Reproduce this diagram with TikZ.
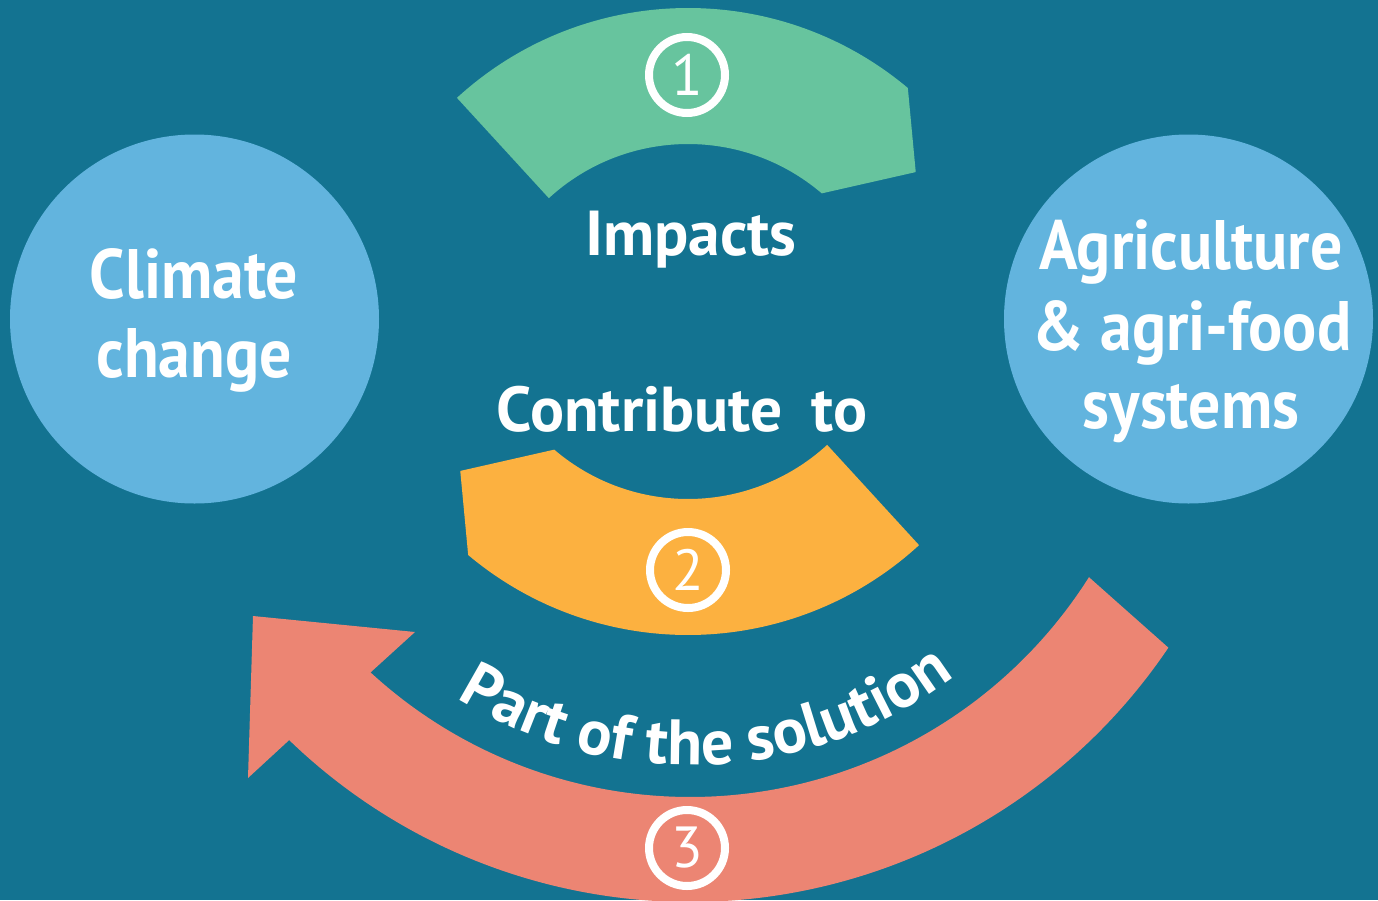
\documentclass[tikz,border=0pt]{standalone}
\usepackage{fontspec}
\setmainfont{PT Sans}
\newfontfamily\condfont{PT Sans}[FakeStretch=0.91]
\usetikzlibrary{calc,decorations.text}
\definecolor{bg}{HTML}{137391}
\definecolor{cblue}{HTML}{62B4DE}
\definecolor{cgreen}{HTML}{67C49E}
\definecolor{corange}{HTML}{FCB140}
\definecolor{cred}{HTML}{EC8573}
\begin{document}
\begin{tikzpicture}[x=1pt,y=1pt,
  bigcircle/.style={circle, fill=cblue, minimum size=369pt, inner sep=0pt},
  circtext/.style={text=white, font=\condfont\fontsize{70}{80}\selectfont\bfseries, inner sep=0pt, anchor=base},
  numring/.style={circle, draw=white, line width=8pt, minimum size=76pt, inner sep=0pt, text=white, font=\fontsize{58}{58}\selectfont},
  midtext/.style={text=white, font=\fontsize{63.5}{72}\selectfont\bfseries, inner sep=0pt, anchor=base}
]
\fill[bg] (0,0) rectangle (1378,-900);
\useasboundingbox (0,0) rectangle (1378,-900);
\clip (0,0) rectangle (1378,-900);

\coordinate (G) at (688,-350);
\coordinate (O) at (688,-293);
\coordinate (R) at (690,-325);

% green band (1)
\fill[cgreen] ($(G)+(132.5:342)$) arc[start angle=132.5, end angle=50, radius=342]
  -- ($(G)+(38:289)$) -- ($(G)+(49.5:206)$)
  arc[start angle=49.5, end angle=132.5, radius=206] -- cycle;

% orange band (2)
\fill[corange] ($(O)+(312.5:342)$) arc[start angle=312.5, end angle=230, radius=342]
  -- ($(O)+(218:289)$) -- ($(O)+(229.5:206)$)
  arc[start angle=229.5, end angle=312.5, radius=206] -- cycle;

% red arrow (3)
\coordinate (h1) at (248,-778);
\coordinate (h2) at (253,-616);
\coordinate (h3) at (415,-632);
\fill[cred] ($(R)+(-34:577)$) arc[start angle=-34, end angle=-134, radius=577]
  -- (h1) -- (h2) -- (h3) -- ($(R)+(-132.6:472)$)
  arc[start angle=-132.6, end angle=-32.3, radius=472] -- cycle;

% circles
\node[bigcircle] (cc) at (194.5,-319) {};
\node[bigcircle] (ag) at (1188.5,-319) {};
\node[circtext] (cc1) at (194,-298) {Climate};
\node[circtext] (cc2) at (194,-377) {change};
\node[circtext] (ag1) at (1191,-269) {Agriculture};
\node[circtext] (ag2) at (1192,-350) {\& agri-food};
\node[circtext] (ag3) at (1191,-428) {systems};

% labels
\node[midtext] (imp) at (691,-255) {Impacts};
\node[midtext] (con) at (682,-431) {Contribute\hspace{0.45em}to};

% number rings
\node[numring] (n1) at (687,-75) {1};
\node[numring] (n2) at (688,-570) {2};
\node[numring] (n3) at (687,-848) {3};

% curved label
\path[decorate, decoration={text along path, text align=center,
  text={|\fontsize{64}{64}\selectfont\bfseries\color{white}|Part of the solution}}]
  ($(R)+(-150:440)$) arc[start angle=-150, end angle=-25, radius=440];
\end{tikzpicture}
\end{document}
